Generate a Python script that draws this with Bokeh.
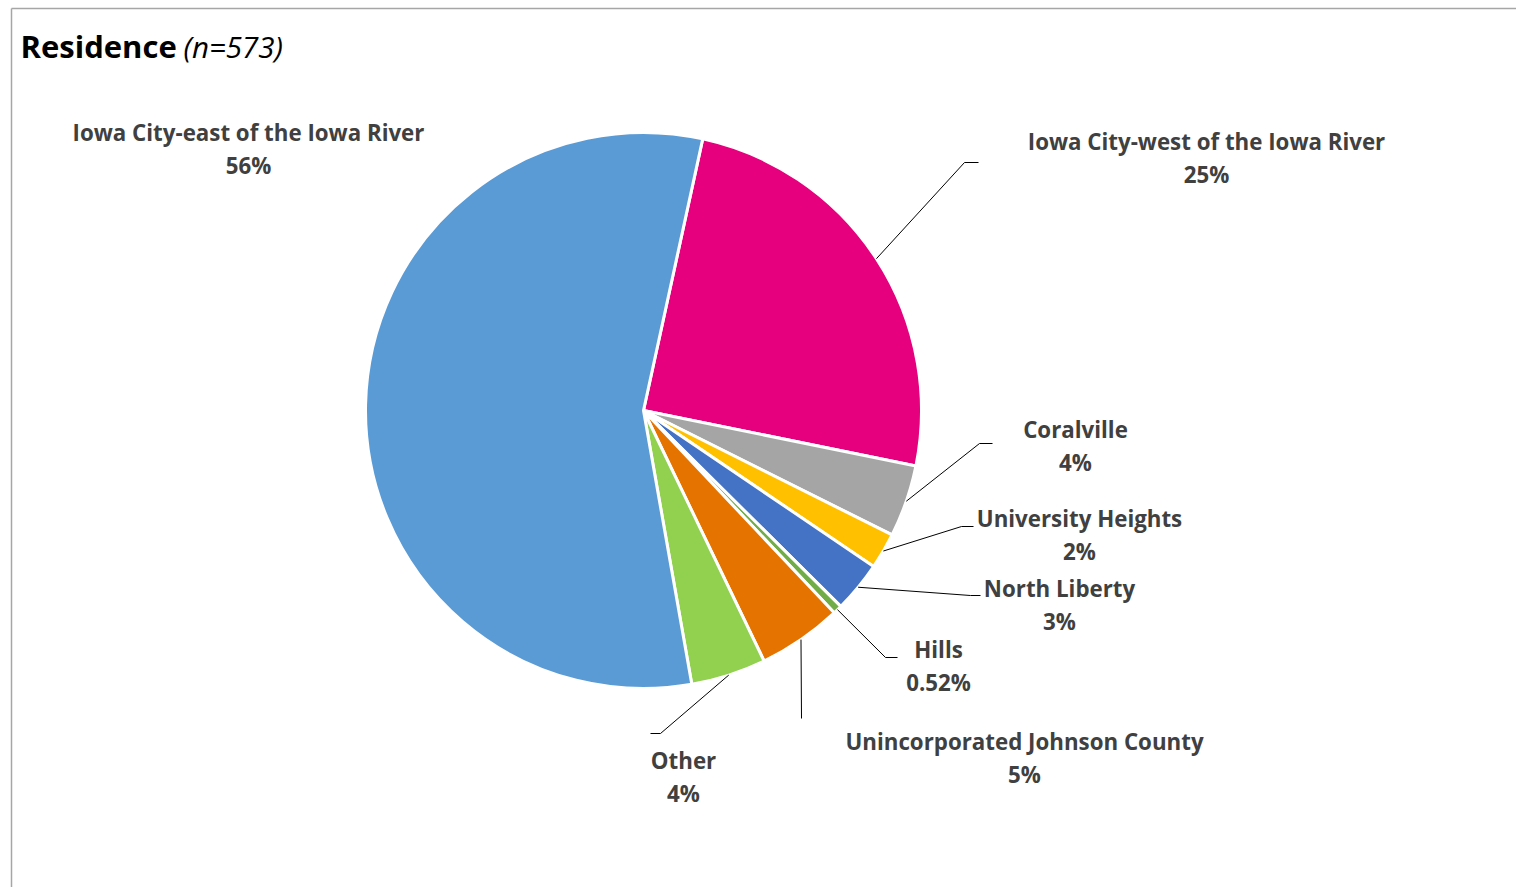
import math
from bokeh.plotting import figure
from bokeh.models import Range1d, ColumnDataSource
from bokeh.core.properties import value
from bokeh.embed import file_html
from bokeh.resources import INLINE

# ---- data (clockwise from the first slice) ----
categories = ["Iowa City-west of the Iowa River", "Coralville", "University Heights",
              "North Liberty", "Hills", "Unincorporated Johnson County", "Other",
              "Iowa City-east of the Iowa River"]
counts = [142, 24, 12, 17, 3, 28, 25, 322]
pct_labels = ["25%", "4%", "2%", "3%", "0.52%", "5%", "4%", "56%"]
colors = ["#E6007E", "#A5A5A5", "#FFC000", "#4472C4", "#70AD47", "#E57300", "#92D050", "#5B9BD5"]
title_main = "Residence"
title_n = "(n=573)"

# ---- layout (pixel coords, y downward) ----
W, H = 1516, 887
CX, CY, R = 643, 410, 278
START = 12.3  # degrees clockwise from 12 o'clock
label_pos = [(1206, 141), (1075, 429), (1079, 518), (1059, 588), (938, 649),
             (1024, 741), (683, 760), (248, 132)]
leader_pts = [[(964, 162), (978, 162)], [(979, 443), (992, 443)], [(961, 526), (973, 526)],
              [(970, 595), (980, 595)], [(885, 657), (897, 657)], [(801, 718)],
              [(660, 733), (650, 733)], None]
LINE_GAP = 33
FONT = "Open Sans"

def Y(py):
    return H - py

total = sum(counts)
starts, ends, mids = [], [], []
acc = START
for c in counts:
    span = c / total * 360.0
    a0, a1 = acc, acc + span
    # bokeh: counter-clockwise from +x ; clockwise-from-top theta -> 90 - theta
    starts.append(math.radians(90 - a1))
    ends.append(math.radians(90 - a0))
    mids.append((a0 + a1) / 2)
    acc = a1

p = figure(width=W, height=H, x_range=Range1d(0, W), y_range=Range1d(0, H),
           output_backend="svg", toolbar_location=None, min_border=0)
p.axis.visible = False
p.grid.visible = False
p.outline_line_color = None
p.background_fill_color = "white"
p.border_fill_color = "white"

# frame
p.segment(x0=[11, 11], y0=[Y(8), Y(8)], x1=[W, 11], y1=[Y(8), 0],
          line_color="#A6A6A6", line_width=1.5)

src = ColumnDataSource(dict(start=starts, end=ends, color=colors, cat=categories))
p.wedge(x=CX, y=Y(CY), radius=R, start_angle="start", end_angle="end",
        fill_color="color", line_color="white", line_width=3, source=src)

# leader lines
xs, ys = [], []
for m, pts in zip(mids, leader_pts):
    if pts is None:
        continue
    rx = CX + R * math.sin(math.radians(m))
    ry = CY - R * math.cos(math.radians(m))
    xs.append([rx] + [q[0] for q in pts])
    ys.append([Y(ry)] + [Y(q[1]) for q in pts])
p.multi_line(xs=xs, ys=ys, line_color="black", line_width=1)

# labels
lx = [q[0] for q in label_pos]
p.text(x=lx, y=[Y(q[1]) for q in label_pos], text=categories,
       text_font=value(FONT), text_font_style="bold", text_font_size="22.3px",
       text_color="#404040", text_align="center", text_baseline="middle")
p.text(x=lx, y=[Y(q[1] + LINE_GAP) for q in label_pos], text=pct_labels,
       text_font=value(FONT), text_font_style="bold", text_font_size="22.3px",
       text_color="#404040", text_align="center", text_baseline="middle")

# title
p.text(x=[20], y=[Y(45)], text=[title_main], text_font=value(FONT),
       text_font_style="bold", text_font_size="31px", text_color="black",
       text_align="left", text_baseline="middle")
p.text(x=[183], y=[Y(46)], text=[title_n], text_font=value(FONT),
       text_font_style="italic", text_font_size="29.5px", text_color="black",
       text_align="left", text_baseline="middle")

open("out.html", "w").write(file_html(p, INLINE))
